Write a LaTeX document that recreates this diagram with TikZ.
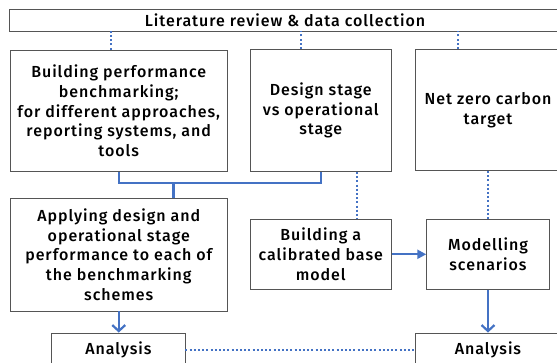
\documentclass[tikz,border=0pt]{standalone}
\usepackage{fontspec}
\setmainfont{Fira Sans}[UprightFont=* Medium,LetterSpace=6]
\usetikzlibrary{arrows.meta,calc}
\definecolor{lblue}{HTML}{4472C4}
\definecolor{bordergray}{HTML}{555555}
\tikzset{
  box/.style={draw=bordergray,line width=0.9pt,align=center,inner sep=0pt,font=\fontsize{16}{19.7}\selectfont,text=black},
  solidline/.style={draw=lblue,line width=2.4pt},
  dotline/.style={draw=lblue,line width=2.2pt,dash pattern=on 2pt off 2.2pt},
  vtip/.style={solidline,-{Straight Barb[length=6pt,width=13pt,line width=2.2pt]}},
  htip/.style={solidline,-{Triangle[length=9pt,width=9pt]}}
}
\begin{document}
\begin{tikzpicture}[x=1pt,y=-1pt]
\useasboundingbox (0,0) rectangle (557,363);
\fill[white] (0,0) rectangle (557,363);
\node[box,minimum width=552pt,minimum height=22pt] (top) at (285,20) {Literature review \& data collection};
\node[box,minimum width=217.5pt,minimum height=121.5pt] (A) at (118.75,110.75) {Building performance\\benchmarking;\\for different approaches,\\reporting systems, and\\tools};
\node[box,minimum width=141.5pt,minimum height=122pt] (B) at (320.75,110.5) {Design stage\\vs operational\\stage};
\node[box,minimum width=146pt,minimum height=121pt] (C) at (488,110) {Net zero carbon\\target};
\node[box,minimum width=217.5pt,minimum height=112.7pt] (D) at (118.75,254.7) {Applying design and\\operational stage\\performance to each of\\the benchmarking\\schemes};
\node[box,minimum width=141.5pt,minimum height=70pt] (E) at (320.75,254.3) {Building a\\calibrated base\\model};
\node[box,minimum width=122.6pt,minimum height=70pt] (F) at (488,254.3) {Modelling\\scenarios};
\node[box,minimum width=133.3pt,minimum height=34pt] (AL) at (118.35,350) {Analysis};
\node[box,minimum width=146pt,minimum height=34pt] (AR) at (488,350) {Analysis};
% dotted links from top box
\draw[dotline] ([xshift=-7.75]A.north) -- ([xshift=-7.75]A.north |- top.south);
\draw[dotline] ([xshift=-19.75]B.north) -- ([xshift=-19.75]B.north |- top.south);
\draw[dotline] ([xshift=-30]C.north) -- ([xshift=-30]C.north |- top.south);
% solid join
\coordinate (j) at (173.3,183.3);
\draw[solidline] (A.south) -- (A.south |- j) -| (B.south);
\draw[solidline] (j) -- (j |- D.north);
% dotted B to E, C to F
\draw[dotline] ([xshift=36]B.south) -- ([xshift=36]B.south |- E.north);
\draw[dotline] (C.south) -- (F.north);
% arrows
\draw[vtip] (D.south) -- (D.south |- AL.north);
\draw[htip] (E.east) -- (F.west);
\draw[vtip] (F.south) -- (AR.north);
\draw[dotline] (AL.east) -- (AR.west);
\end{tikzpicture}
\end{document}
